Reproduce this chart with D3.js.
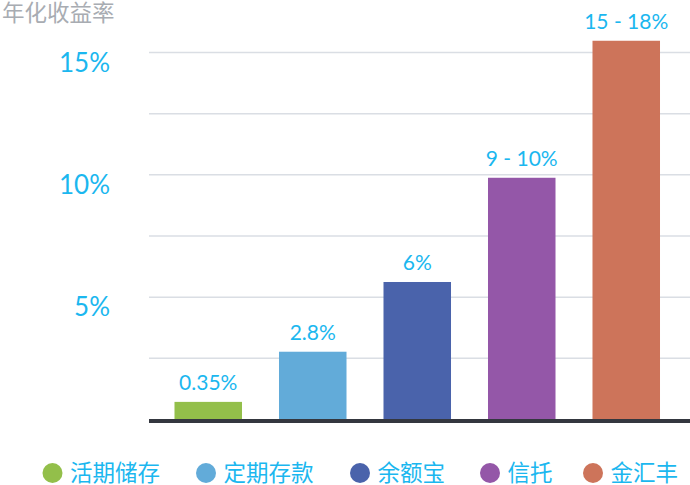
<!DOCTYPE html>
<html><head><meta charset="utf-8">
<script src="https://cdn.jsdelivr.net/npm/d3@7"></script>
<style>body{margin:0;background:#fff}svg{display:block}</style>
</head><body>
<svg id="c" width="690" height="485"></svg>
<script>
const categories = ["活期储存","定期存款","余额宝","信托","金汇丰"];
const values = [0.72, 2.77, 5.62, 9.88, 15.48];
const labels = ["0.35%","2.8%","6%","9 - 10%","15 - 18%"];
const colors = ["#93bf4a","#62abd9","#4a63ab","#9457a8","#cd745a"];
const gridTicks = [2.5,5,7.5,10,12.5,15];
const tickLabels = [[5,"5%"],[10,"10%"],[15,"15%"]];
const title = "年化收益率";

const svg = d3.select("#c");
const cyan = "#1bb7ef";
const latin = "Lato, 'Noto Sans', sans-serif";
const cjk = "'Noto Sans CJK SC', sans-serif";

const y = d3.scaleLinear().domain([0,15]).range([419.5,52.5]);
const x = d3.scaleBand().domain(categories).range([149,685.5]).paddingInner(0.354).paddingOuter(0.244);

svg.append("g").selectAll("line").data(gridTicks).join("line")
  .attr("x1",149).attr("x2",690)
  .attr("y1",d=>y(d)).attr("y2",d=>y(d))
  .attr("stroke","#dadee4").attr("stroke-width",1.5);

svg.append("g").selectAll("text").data(tickLabels).join("text")
  .attr("x",110).attr("y",d=>y(d[0])+19)
  .attr("text-anchor","end").attr("fill",cyan)
  .attr("font-family",latin).attr("font-size",26)
  .text(d=>d[1]);

svg.append("g").selectAll("rect").data(categories).join("rect")
  .attr("x",d=>x(d)).attr("width",x.bandwidth())
  .attr("y",(d,i)=>y(values[i])).attr("height",(d,i)=>y(0)-y(values[i]))
  .attr("fill",(d,i)=>colors[i]);

svg.append("g").selectAll("text").data(categories).join("text")
  .attr("x",d=>x(d)+x.bandwidth()/2).attr("y",(d,i)=>y(values[i])-12)
  .attr("text-anchor","middle").attr("fill",cyan)
  .attr("font-family",latin).attr("font-size",21)
  .text((d,i)=>labels[i]);

svg.append("line").attr("x1",149).attr("x2",690)
  .attr("y1",y(0)+1.5).attr("y2",y(0)+1.5)
  .attr("stroke","#34373f").attr("stroke-width",4);

svg.append("text").attr("x",2).attr("y",21)
  .attr("fill","#a8acb2").attr("font-family",cjk).attr("font-size",22.5)
  .text(title);

const legendX = [52.5, 206, 360, 490, 593];
const lg = svg.append("g").selectAll("g").data(categories).join("g")
  .attr("transform",(d,i)=>`translate(${legendX[i]},473)`);
lg.append("circle").attr("r",10).attr("fill",(d,i)=>colors[i]);
lg.append("text").attr("x",17.5).attr("y",8)
  .attr("fill",cyan).attr("font-family",cjk).attr("font-size",22.5)
  .text(d=>d);
</script>
</body></html>
